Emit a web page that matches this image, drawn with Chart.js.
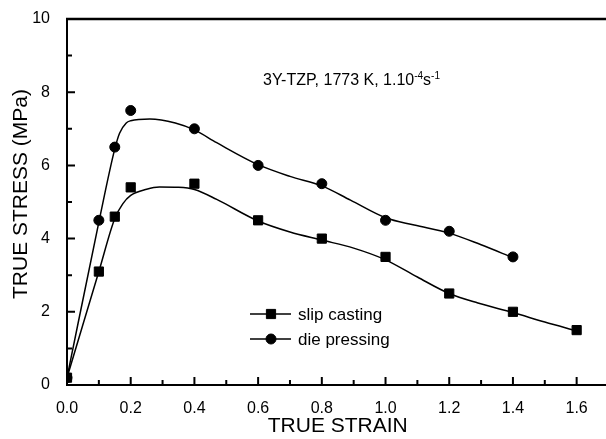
<!DOCTYPE html>
<html>
<head>
<meta charset="utf-8">
<script src="https://cdn.jsdelivr.net/npm/chart.js@4.4.1/dist/chart.umd.min.js"></script>
<style>
  html, body { margin: 0; padding: 0; background: #fff; overflow: hidden; }
  canvas { display: block; }
</style>
</head>
<body>
<canvas id="chart" width="616" height="439"></canvas>
<script>
// measured points
const slipStrain = [0, 0.1, 0.15, 0.2, 0.4, 0.6, 0.8, 1.0, 1.2, 1.4, 1.6];
const slipStress = [0.2, 3.1, 4.6, 5.4, 5.5, 4.5, 4.0, 3.5, 2.5, 2.0, 1.5];
const dieStrain = [0, 0.1, 0.15, 0.2, 0.4, 0.6, 0.8, 1.0, 1.2, 1.4];
const dieStress = [0.2, 4.5, 6.5, 7.5, 7.0, 6.0, 5.5, 4.5, 4.2, 3.5];

// fitted curves
const slipFitStrain = [0, 0.1, 0.15, 0.175, 0.2, 0.25, 0.29, 0.35, 0.4, 0.47, 0.6, 0.7, 0.8, 0.9, 1.0, 1.1, 1.2, 1.29, 1.4, 1.5, 1.6];
const slipFitStress = [0.2, 3.1, 4.55, 4.95, 5.18, 5.35, 5.41, 5.4, 5.34, 5.07, 4.48, 4.18, 3.96, 3.74, 3.42, 2.95, 2.5, 2.24, 1.98, 1.72, 1.48];
const dieFitStrain = [0, 0.1, 0.15, 0.165, 0.186, 0.2, 0.26, 0.34, 0.4, 0.47, 0.6, 0.7, 0.8, 0.89, 1.0, 1.09, 1.2, 1.3, 1.4];
const dieFitStress = [0.2, 4.45, 6.45, 6.88, 7.16, 7.22, 7.27, 7.16, 6.97, 6.62, 6.02, 5.7, 5.44, 5.05, 4.57, 4.37, 4.15, 3.83, 3.48];

const xMajor = [0, 0.2, 0.4, 0.6, 0.8, 1.0, 1.2, 1.4, 1.6];
const xMinor = [0.1, 0.3, 0.5, 0.7, 0.9, 1.1, 1.3, 1.5];
const yMajor = [0, 2, 4, 6, 8, 10];
const yMinor = [1, 3, 5, 7, 9];

const seriesNames = ['slip casting', 'die pressing'];
const xTitle = 'TRUE STRAIN';
const yTitle = 'TRUE STRESS (MPa)';

const FONT = '"Liberation Sans", Arial, sans-serif';
const pts = (xs, ys) => xs.map((v, i) => ({ x: v, y: ys[i] }));

// inner ticks and top frame
const frame = {
  id: 'frame',
  afterDatasetsDraw(chart) {
    const ctx = chart.ctx;
    const a = chart.chartArea;
    const x = chart.scales.x;
    const y = chart.scales.y;
    ctx.save();
    ctx.setLineDash([]);
    ctx.globalAlpha = 1;
    ctx.strokeStyle = 'rgb(0,0,0)';
    ctx.lineWidth = 2.5;
    ctx.beginPath();
    ctx.moveTo(a.left - 1, a.top);
    ctx.lineTo(a.right, a.top);
    ctx.stroke();

    ctx.lineWidth = 2;
    ctx.beginPath();
    for (const v of xMajor) { const p = x.getPixelForValue(v); ctx.moveTo(p, a.bottom); ctx.lineTo(p, a.bottom - 8); }
    for (const v of xMinor) { const p = x.getPixelForValue(v); ctx.moveTo(p, a.bottom); ctx.lineTo(p, a.bottom - 5); }
    for (const v of yMajor) { const p = y.getPixelForValue(v); ctx.moveTo(a.left, p); ctx.lineTo(a.left + 8, p); }
    for (const v of yMinor) { const p = y.getPixelForValue(v); ctx.moveTo(a.left, p); ctx.lineTo(a.left + 5, p); }
    ctx.stroke();
    ctx.restore();
  }
};

// y title, note and legend
const texts = {
  id: 'texts',
  afterDraw(chart) {
    const ctx = chart.ctx;
    ctx.save();
    ctx.fillStyle = '#000';
    ctx.strokeStyle = '#000';

    ctx.save();
    ctx.font = '21px ' + FONT;
    ctx.textAlign = 'center';
    ctx.textBaseline = 'middle';
    ctx.translate(21, 194);
    ctx.rotate(-Math.PI / 2);
    ctx.fillText(yTitle, 0, 0);
    ctx.restore();

    // note with superscripts
    ctx.textAlign = 'left';
    ctx.textBaseline = 'alphabetic';
    let tx = 263;
    const base = 85;
    const part = (s, size, dy) => {
      ctx.font = size + 'px ' + FONT;
      ctx.fillText(s, tx, base + dy);
      tx += ctx.measureText(s).width;
    };
    part('3Y-TZP, 1773 K, 1.10', 16, 0);
    part('-4', 10, -6);
    part('s', 16, 0);
    part('-1', 10, -6);

    // legend
    const rows = [
      { name: seriesNames[0], style: 'rect', r: 6.5, yy: 314 },
      { name: seriesNames[1], style: 'circle', r: 5, yy: 339 }
    ];
    ctx.font = '17px ' + FONT;
    ctx.textBaseline = 'middle';
    rows.forEach(row => {
      ctx.lineWidth = 1.5;
      ctx.beginPath();
      ctx.moveTo(250, row.yy);
      ctx.lineTo(291, row.yy);
      ctx.stroke();
      ctx.lineWidth = 1;
      Chart.helpers.drawPoint(ctx, { pointStyle: row.style, radius: row.r, rotation: 0, borderWidth: 1 }, 271, row.yy);
      ctx.fillText(row.name, 298, row.yy + 1);
    });
    ctx.restore();
  }
};

new Chart(document.getElementById('chart'), {
  type: 'scatter',
  data: {
    datasets: [
      {
        data: pts(dieFitStrain, dieFitStress), showLine: true, pointRadius: 0,
        borderColor: '#000', borderWidth: 1.5, cubicInterpolationMode: 'monotone'
      },
      {
        data: pts(slipFitStrain, slipFitStress), showLine: true, pointRadius: 0,
        borderColor: '#000', borderWidth: 1.5, cubicInterpolationMode: 'monotone'
      },
      {
        label: seriesNames[1], data: pts(dieStrain, dieStress), showLine: false,
        pointStyle: 'circle', pointRadius: 5, backgroundColor: '#000', borderColor: '#000', borderWidth: 1
      },
      {
        label: seriesNames[0], data: pts(slipStrain, slipStress), showLine: false,
        pointStyle: 'rect', pointRadius: 6.5, backgroundColor: '#000', borderColor: '#000', borderWidth: 1
      }
    ]
  },
  options: {
    responsive: false,
    devicePixelRatio: 1,
    animation: false,
    layout: { padding: { top: 19, left: 0, right: 0, bottom: 0 } },
    plugins: { legend: { display: false }, tooltip: { enabled: false } },
    scales: {
      x: {
        type: 'linear', min: 0, max: 1.7,
        afterBuildTicks: s => { s.ticks = xMajor.map(v => ({ value: v })); },
        afterFit: s => { s.height = 54; },
        grid: { display: false },
        border: { display: true, color: '#000', width: 2 },
        ticks: {
          color: '#000', font: { family: FONT, size: 16 }, padding: 6,
          autoSkip: false, maxRotation: 0,
          callback: v => v.toFixed(1)
        },
        title: {
          display: true, text: xTitle, color: '#000',
          font: { family: FONT, size: 21 }, padding: { top: 0, bottom: 0 }
        }
      },
      y: {
        type: 'linear', min: 0, max: 10,
        afterBuildTicks: s => { s.ticks = yMajor.map(v => ({ value: v })); },
        afterFit: s => { s.width = 67; },
        grid: { display: false },
        border: { display: true, color: '#000', width: 2 },
        ticks: {
          color: '#000', font: { family: FONT, size: 16 }, padding: 9,
          callback: v => String(v)
        }
      }
    }
  },
  plugins: [frame, texts]
});
</script>
</body>
</html>
